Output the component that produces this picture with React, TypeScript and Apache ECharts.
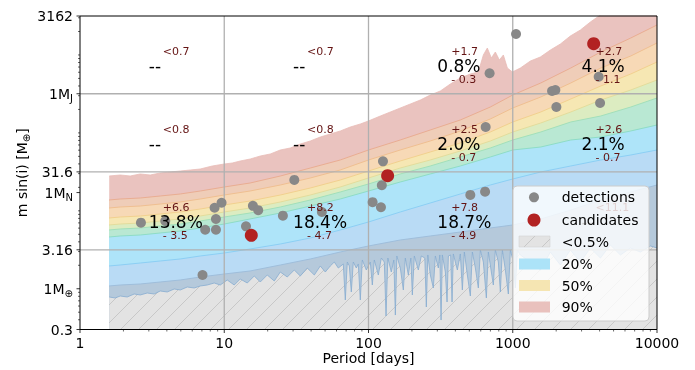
import React, { useEffect, useRef } from "react";
import * as echarts from "echarts";

const FONT = "DejaVu Sans";

// ---------- contour band boundaries (period [days], m sin i [M_earth]) ----------
const topPeriods = [1.594, 1.9, 2.229, 2.615, 3.067, 3.599, 4.222, 4.954, 5.81, 6.817, 8.256, 10.0, 11.36, 12.91, 15.15, 17.77, 20.84, 24.46, 28.69, 33.66, 39.49, 46.33, 54.34, 63.76, 74.78, 87.74, 99.7, 120.8, 141.7, 166.2, 195.0, 228.8, 268.3, 314.8, 369.2, 433.2, 508.2, 577.4, 625.4, 666.4, 710.5, 757.6, 807.6, 860.9, 917.7, 994.0, 1129, 1325, 1554, 1823, 2139, 2508, 2944, 3453, 4052, 5577, 10000];
const edge90 = [27.98, 28.83, 27.98, 29.7, 28.83, 30.58, 31.49, 32.43, 33.42, 34.41, 37.6, 39.9, 41.08, 43.59, 46.24, 50.52, 53.6, 60.33, 64.0, 72.0, 78.7, 88.6, 96.78, 105.8, 119.0, 130.1, 142.1, 164.8, 185.4, 208.7, 234.9, 264.3, 306.4, 344.9, 424.0, 506.3, 569.9, 604.6, 999, 1228, 914.5, 1091, 861.7, 999, 680.2, 604.6, 680.2, 836.6, 941.7, 1157, 1382, 1751, 2091, 2649, 3257, 5000, 9000];

const gridPeriods = [1.59, 1.9, 2.62, 3.6, 4.95, 6.82, 10, 15.1, 24.5, 39.5, 63.7, 100, 166, 268, 433, 699, 1000, 1564, 2525, 4076, 6580, 10000];
const edge80 = [13.77, 14.18, 14.61, 15.5, 16.44, 17.96, 20.22, 22.75, 27.98, 35.44, 44.9, 60.33, 81.06, 108.9, 146.4, 214.9, 306.4, 436.9, 680.2, 1091, 1651, 2424];
const edge70 = [10.87, 11.2, 11.53, 12.23, 12.98, 14.18, 15.96, 17.96, 21.45, 26.38, 33.42, 44.9, 60.33, 78.7, 105.8, 150.8, 208.7, 288.9, 436.9, 680.2, 970.0, 1424];
const edge60 = [8.09, 8.33, 8.58, 9.11, 9.66, 10.55, 11.88, 13.37, 15.96, 19.63, 24.86, 32.43, 43.59, 56.88, 74.19, 102.7, 138.0, 185.4, 272.2, 399.7, 569.9, 812.3];
const edge50 = [6.58, 6.77, 6.98, 7.4, 7.86, 8.58, 9.66, 10.87, 12.98, 15.96, 20.22, 26.38, 35.44, 44.9, 58.58, 78.7, 102.7, 134.0, 185.4, 264.3, 355.2, 477.3];
const edge40 = [5.675, 5.845, 6.02, 6.39, 6.77, 7.4, 8.33, 9.38, 11.2, 13.77, 17.44, 22.09, 29.7, 37.6, 49.06, 64.0, 81.06, 102.7, 138.0, 164.8, 214.9, 280.4];
const edge30 = [4.614, 4.753, 4.895, 5.193, 5.509, 6.02, 6.77, 7.86, 9.38, 11.53, 14.18, 17.96, 23.43, 29.7, 37.6, 49.06, 60.33, 65.9, 81.06, 88.6, 105.8, 126.3];
const edge20 = [1.959, 2.018, 2.14, 2.271, 2.409, 2.633, 2.876, 3.237, 3.752, 4.481, 5.675, 7.19, 9.66, 12.6, 16.44, 21.45, 25.61, 31.49, 37.6, 44.9, 52.05, 60.33];
const edge10 = [1.085, 1.117, 1.151, 1.221, 1.295, 1.415, 1.546, 1.69, 2.018, 2.409, 2.962, 3.537, 4.223, 4.753, 5.348, 6.02, 6.58, 7.86, 10.24, 13.77, 17.44, 21.45];

const lowPeriods = [1.594, 1.754, 1.9, 2.125, 2.376, 2.615, 2.924, 3.27, 3.599, 4.024, 4.501, 4.954, 5.539, 6.194, 6.817, 7.623, 8.524, 9.382, 10.49, 11.73, 12.91, 14.44, 16.15, 17.77, 19.87, 22.23, 24.46, 27.35, 30.58, 33.66, 37.63, 42.1, 46.33, 50.17,
  54.34, 57.94, 61.75, 66.89, 69.06, 71.29, 73.61, 76.0, 78.47, 82.32, 84.98, 87.74, 90.59, 96.56, 102.9, 106.3, 109.7, 117.0, 122.7, 128.7, 132.3, 136.2, 143.9, 149.8, 153.5, 157.2, 166.2, 174.4, 180.0, 188.9, 196.6, 201.3, 207.8, 221.5, 232.4, 245.7, 251.7, 257.8, 268.3, 281.5, 290.6, 304.9, 312.3, 318.4, 325.0, 341.0, 350.4, 357.8, 371.1, 379.5, 387.4, 413.0, 433.2, 447.3, 461.8, 484.5, 508.2, 524.7, 550.5, 577.4, 596.3, 625.4, 656.1, 677.4, 710.5, 733.6, 757.4, 794.6, 820.4, 847.1, 888.6, 932.2, 962.5, 1010, 1043, 1076, 1129,
  1325, 1554, 1823, 2139, 2508, 2944, 3453, 4052, 4753, 5577, 6541, 7674, 9001, 10000];
const edgeLow = [0.784, 0.761, 0.807, 0.784, 0.856, 0.832, 0.882, 0.856, 0.936, 0.909, 0.993, 0.964, 1.053, 1.023, 1.085, 1.117, 1.185, 1.117, 1.295, 1.117, 1.334, 1.185, 1.458, 1.221, 1.501, 1.257, 1.641, 1.415, 1.74, 1.458, 1.846, 1.501, 1.959, 1.641,
  1.959, 2.204, 1.846, 2.078, 0.717, 2.204, 1.959, 0.909, 2.204, 1.846, 2.078, 0.717, 2.339, 1.74, 2.204, 1.117, 2.339, 1.501, 2.48, 2.204, 0.447, 2.48, 1.641, 2.339, 0.46, 2.633, 1.846, 0.964, 2.48, 1.501, 2.48, 0.832, 2.633, 1.74, 2.633, 2.48, 0.583, 2.711, 1.501, 1.023, 2.633, 1.846, 2.711, 0.397, 2.711, 1.641, 0.676, 2.633, 2.711, 0.676, 2.793, 1.74, 2.793, 0.964, 2.962, 1.501, 0.807, 2.962, 1.846, 1.023, 3.142, 2.204, 0.761, 2.962, 1.641, 1.117, 3.142, 2.204, 0.909, 3.142, 1.74, 0.856, 3.142, 2.204, 1.023, 3.142, 2.711,
  2.204, 1.74, 2.962, 2.018, 3.142, 2.204, 3.334, 2.48, 3.642, 2.711, 3.334, 2.962, 3.537, 3.334];

// ---------- planets ----------
const detPeriods = [2.645, 3.9, 7.07, 7.38, 8.76, 8.76, 8.57, 9.58, 14.15, 15.8, 17.2, 25.5, 30.6, 47.5, 106.8, 122, 123.7, 126, 508, 643, 649, 691, 1054, 1873, 1974, 2006, 3942, 4031];
const detMasses = [7.04, 7.4, 1.5, 5.72, 5.72, 7.85, 10.96, 12.7, 6.33, 11.6, 10.2, 8.66, 24.9, 9.66, 12.9, 11.1, 21.3, 43.2, 16.0, 17.6, 119, 582, 1858, 345, 355, 215, 526, 242];
const candPeriods = [15.4, 135.7, 3639];
const candMasses = [4.85, 28.2, 1395];

// ---------- occurrence-rate table ----------
const cellPeriods = [3, 30, 300, 3000];
const cellMasses = [720, 72, 7.2];
const occurrence = [
  ["--", "--", "0.8%", "4.1%"],
  ["--", "--", "2.0%", "2.1%"],
  ["13.8%", "18.4%", "18.7%", "--"],
];
const upperErr = [
  ["<0.7", "<0.7", "+1.7", "+2.7"],
  ["<0.8", "<0.8", "+2.5", "+2.6"],
  ["+6.6", "+8.2", "+7.8", "<11.1"],
];
const lowerErr = [
  ["", "", "- 0.3", "- 1.1"],
  ["", "", "- 0.7", "- 0.7"],
  ["- 3.5", "- 4.7", "- 4.9", ""],
];

// ---------- axes ----------
const xMajorTicks = [1, 10, 100, 1000, 10000];
const xMajorLabels = ["1", "10", "100", "1000", "10000"];
const xMinorTicks = [2, 3, 4, 5, 6, 7, 8, 9, 20, 30, 40, 50, 60, 70, 80, 90, 200, 300, 400, 500, 600, 700, 800, 900, 2000, 3000, 4000, 5000, 6000, 7000, 8000, 9000];
const yMajorTicks = [0.3, 1, 3.16, 17.15, 31.6, 317.8, 3162];
const yMajorLabels = ["0.3", "1M{s|⊕}", "3.16", "1M{s|N}", "31.6", "1M{s|J}", "3162"];
const yMinorTicks = [0.4, 0.5, 0.6, 0.7, 0.8, 0.9, 2, 3, 4, 5, 6, 7, 8, 9, 10, 20, 30, 40, 50, 60, 70, 80, 90, 100, 200, 300, 400, 500, 600, 700, 800, 900, 1000, 2000, 3000];
const xGridLines = [10, 100, 1000];
const yGridLines = [3.16, 31.6, 317.8];

function makeHatch(bg: string, line: string) {
  const s = 18;
  const c = document.createElement("canvas");
  c.width = s;
  c.height = s;
  const ctx = c.getContext("2d")!;
  ctx.fillStyle = bg;
  ctx.fillRect(0, 0, s, s);
  ctx.strokeStyle = line;
  ctx.lineWidth = 1;
  ctx.beginPath();
  ctx.moveTo(-1, s + 1);
  ctx.lineTo(s + 1, -1);
  ctx.moveTo(-2, 2);
  ctx.lineTo(2, -2);
  ctx.moveTo(s - 2, s + 2);
  ctx.lineTo(s + 2, s - 2);
  ctx.stroke();
  return c;
}

const txt = (o: any) => ({
  ...o,
  fontFamily: FONT,
  textAlign: o.align,
  textVerticalAlign: o.verticalAlign,
});

export default function App() {
  const ref = useRef<HTMLDivElement>(null);
  useEffect(() => {
    const el = ref.current!;
    const chart = echarts.init(el, null, { renderer: "svg" });
    const hatch = { image: makeHatch("#e3e3e3", "#c8c8c8"), repeat: "repeat" };

    const band = (name: string, xs: number[], ys: number[], fill: any, line: string, lw = 1) => ({
      type: "line",
      name,
      data: xs.map((p, i) => [p, ys[i]]),
      symbol: "none",
      showSymbol: false,
      smooth: false,
      clip: true,
      silent: true,
      z: 2,
      lineStyle: { color: line, width: lw },
      areaStyle: { color: fill, opacity: 1, origin: "start" },
      emphasis: { disabled: true },
    });

    const cells: { p: number; m: number; big: string; up: string; low: string }[] = [];
    occurrence.forEach((row, r) =>
      row.forEach((big, c) =>
        cells.push({ p: cellPeriods[c], m: cellMasses[r], big, up: upperErr[r][c], low: lowerErr[r][c] })
      )
    );

    const option: any = {
      animation: false,
      grid: { left: 80, right: 38, top: 16, bottom: 40.5 },
      xAxis: { type: "log", logBase: 10, min: 1, max: 10000, show: false },
      yAxis: { type: "log", logBase: 10, min: 0.3, max: 3162, show: false },
      series: [
        band("90%", topPeriods, edge90, "#eac3bf", "#e8bcb7", 0.8),
        band("80%", gridPeriods, edge80, "#efcdb8", "#e9ad92"),
        band("70%", gridPeriods, edge70, "#f7d9b6", "#efbf91"),
        band("50%", gridPeriods, edge60, "#f6e7b3", "#f1d08f"),
        band("40%", gridPeriods, edge50, "#dcecc1", "#e3dc9c"),
        band("30%", gridPeriods, edge40, "#b9e8d3", "#a2dfba"),
        band("20%", gridPeriods, edge30, "#aee4f9", "#8edcc6"),
        band("10%", gridPeriods, edge20, "#b9dbf5", "#8ccff4"),
        band("5%", gridPeriods, edge10, "#b5c9db", "#9fbedb"),
        band("<0.5%", lowPeriods, edgeLow, hatch, "#86acd0", 0.8),
        {
          type: "custom",
          coordinateSystem: "cartesian2d",
          silent: true,
          z: 3,
          data: xGridLines.map((v) => [v, 1]),
          renderItem: (params: any, api: any) => {
            const cs = params.coordSys;
            const x = api.coord([api.value(0), 1])[0];
            return {
              type: "line",
              shape: { x1: x, y1: cs.y, x2: x, y2: cs.y + cs.height },
              style: { stroke: "#b0b0b0", lineWidth: 1.3 },
            };
          },
        },
        {
          type: "custom",
          coordinateSystem: "cartesian2d",
          silent: true,
          z: 3,
          data: yGridLines.map((v) => [1, v]),
          renderItem: (params: any, api: any) => {
            const cs = params.coordSys;
            const y = api.coord([1, api.value(1)])[1];
            return {
              type: "line",
              shape: { x1: cs.x, y1: y, x2: cs.x + cs.width, y2: y },
              style: { stroke: "#b0b0b0", lineWidth: 1.3 },
            };
          },
        },
        {
          type: "scatter",
          name: "detections",
          data: detPeriods.map((p, i) => [p, detMasses[i]]),
          symbolSize: 10,
          itemStyle: { color: "#888888", opacity: 1 },
          z: 5,
          silent: true,
        },
        {
          type: "scatter",
          name: "candidates",
          data: candPeriods.map((p, i) => [p, candMasses[i]]),
          symbolSize: 13,
          itemStyle: { color: "#b22222", opacity: 1 },
          z: 5,
          silent: true,
        },
        {
          type: "custom",
          coordinateSystem: "cartesian2d",
          silent: true,
          z: 6,
          data: cells.map((c) => [c.p, c.m]),
          renderItem: (params: any, api: any) => {
            const c = cells[params.dataIndex];
            const [x, y] = api.coord([api.value(0), api.value(1)]);
            const children: any[] = [
              { type: "text", style: txt({ text: c.big, x, y, fontSize: 17, fill: "#000", align: "left", verticalAlign: "middle" }) },
            ];
            if (c.up)
              children.push({ type: "text", style: txt({ text: c.up, x: x + 14, y: y - 14.6, fontSize: 11, fill: "#641414", align: "left", verticalAlign: "middle" }) });
            if (c.low)
              children.push({ type: "text", style: txt({ text: c.low, x: x + 14, y: y + 13.6, fontSize: 11, fill: "#641414", align: "left", verticalAlign: "middle" }) });
            return { type: "group", children };
          },
        },
        {
          type: "custom",
          coordinateSystem: "cartesian2d",
          silent: true,
          z: 10,
          data: xMajorTicks.map((v) => [v, 1]),
          renderItem: (params: any, api: any) => {
            const cs = params.coordSys;
            const x = api.coord([api.value(0), 1])[0];
            const yb = cs.y + cs.height;
            return {
              type: "group",
              children: [
                { type: "line", shape: { x1: x, y1: yb, x2: x, y2: yb + 3.5 }, style: { stroke: "#000", lineWidth: 0.8 } },
                { type: "text", style: txt({ text: xMajorLabels[params.dataIndex], x, y: yb + 6, fontSize: 14, fill: "#000", align: "center", verticalAlign: "top" }) },
              ],
            };
          },
        },
        {
          type: "custom",
          coordinateSystem: "cartesian2d",
          silent: true,
          z: 10,
          data: xMinorTicks.map((v) => [v, 1]),
          renderItem: (params: any, api: any) => {
            const cs = params.coordSys;
            const x = api.coord([api.value(0), 1])[0];
            const yb = cs.y + cs.height;
            return { type: "line", shape: { x1: x, y1: yb, x2: x, y2: yb + 2 }, style: { stroke: "#000", lineWidth: 0.6 } };
          },
        },
        {
          type: "custom",
          coordinateSystem: "cartesian2d",
          silent: true,
          z: 10,
          data: yMajorTicks.map((v) => [1, v]),
          renderItem: (params: any, api: any) => {
            const cs = params.coordSys;
            const y = api.coord([1, api.value(1)])[1];
            return {
              type: "group",
              children: [
                { type: "line", shape: { x1: cs.x - 3.5, y1: y, x2: cs.x, y2: y }, style: { stroke: "#000", lineWidth: 0.8 } },
                {
                  type: "text",
                  style: txt({
                    text: yMajorLabels[params.dataIndex],
                    x: cs.x - 7,
                    y,
                    fontSize: 14,
                    fill: "#000",
                    align: "right",
                    verticalAlign: "middle",
                    rich: { s: { fontSize: 10, fontFamily: FONT, padding: [9, 0, 0, 0] } },
                  }),
                },
              ],
            };
          },
        },
        {
          type: "custom",
          coordinateSystem: "cartesian2d",
          silent: true,
          z: 10,
          data: yMinorTicks.map((v) => [1, v]),
          renderItem: (params: any, api: any) => {
            const cs = params.coordSys;
            const y = api.coord([1, api.value(1)])[1];
            return { type: "line", shape: { x1: cs.x - 2, y1: y, x2: cs.x, y2: y }, style: { stroke: "#000", lineWidth: 0.6 } };
          },
        },
        {
          type: "custom",
          coordinateSystem: "cartesian2d",
          silent: true,
          z: 10,
          data: [[1, 1]],
          renderItem: (params: any) => {
            const cs = params.coordSys;
            return {
              type: "group",
              children: [
                { type: "rect", shape: { x: cs.x, y: cs.y, width: cs.width, height: cs.height }, style: { fill: "none", stroke: "#000", lineWidth: 1 } },
                { type: "text", style: txt({ text: "Period [days]", x: cs.x + cs.width / 2, y: cs.y + cs.height + 28.5, fontSize: 14, fill: "#000", align: "center", verticalAlign: "middle" }) },
                {
                  type: "text",
                  x: cs.x - 58,
                  y: cs.y + cs.height / 2,
                  rotation: Math.PI / 2,
                  style: txt({
                    text: "m sin(i) [M{s|⊕}]",
                    x: 0,
                    y: 0,
                    fontSize: 14,
                    fill: "#000",
                    align: "center",
                    verticalAlign: "middle",
                    rich: { s: { fontSize: 10, fontFamily: FONT, padding: [9, 0, 0, 0] } },
                  }),
                },
              ],
            };
          },
        },
      ],
      graphic: {
        elements: [
          {
            type: "group",
            x: 513,
            y: 186,
            z: 100,
            children: [
              { type: "rect", shape: { x: 0, y: 0, width: 136, height: 135, r: 4 }, style: { fill: "rgba(255,255,255,0.8)", stroke: "#cccccc", lineWidth: 1 }, z: 100 },
              { type: "circle", shape: { cx: 21, cy: 11.3, r: 5 }, style: { fill: "#888888" }, z: 101 },
              { type: "text", style: txt({ text: "detections", x: 48.7, y: 11.3, fontSize: 14, fill: "#000", align: "left", verticalAlign: "middle" }), z: 101 },
              { type: "circle", shape: { cx: 21, cy: 34, r: 6.5 }, style: { fill: "#b22222" }, z: 101 },
              { type: "text", style: txt({ text: "candidates", x: 48.7, y: 34, fontSize: 14, fill: "#000", align: "left", verticalAlign: "middle" }), z: 101 },
              { type: "rect", shape: { x: 6, y: 50, width: 31, height: 11 }, style: { fill: hatch, stroke: "#cfcfcf", lineWidth: 0.5 }, z: 101 },
              { type: "text", style: txt({ text: "<0.5%", x: 48.7, y: 55.5, fontSize: 14, fill: "#000", align: "left", verticalAlign: "middle" }), z: 101 },
              { type: "rect", shape: { x: 6, y: 72.5, width: 31, height: 11 }, style: { fill: "#ace3f8" }, z: 101 },
              { type: "text", style: txt({ text: "20%", x: 48.7, y: 78, fontSize: 14, fill: "#000", align: "left", verticalAlign: "middle" }), z: 101 },
              { type: "rect", shape: { x: 6, y: 94, width: 31, height: 11 }, style: { fill: "#f5e5b2" }, z: 101 },
              { type: "text", style: txt({ text: "50%", x: 48.7, y: 99.7, fontSize: 14, fill: "#000", align: "left", verticalAlign: "middle" }), z: 101 },
              { type: "rect", shape: { x: 6, y: 115.5, width: 31, height: 11 }, style: { fill: "#e9c1bd" }, z: 101 },
              { type: "text", style: txt({ text: "90%", x: 48.7, y: 121, fontSize: 14, fill: "#000", align: "left", verticalAlign: "middle" }), z: 101 },
            ],
          },
        ],
      },
    };
    chart.setOption(option);
    return () => chart.dispose();
  }, []);
  return <div ref={ref} style={{ position: "fixed", left: 0, top: 0, width: 695, height: 370 }} />;
}
